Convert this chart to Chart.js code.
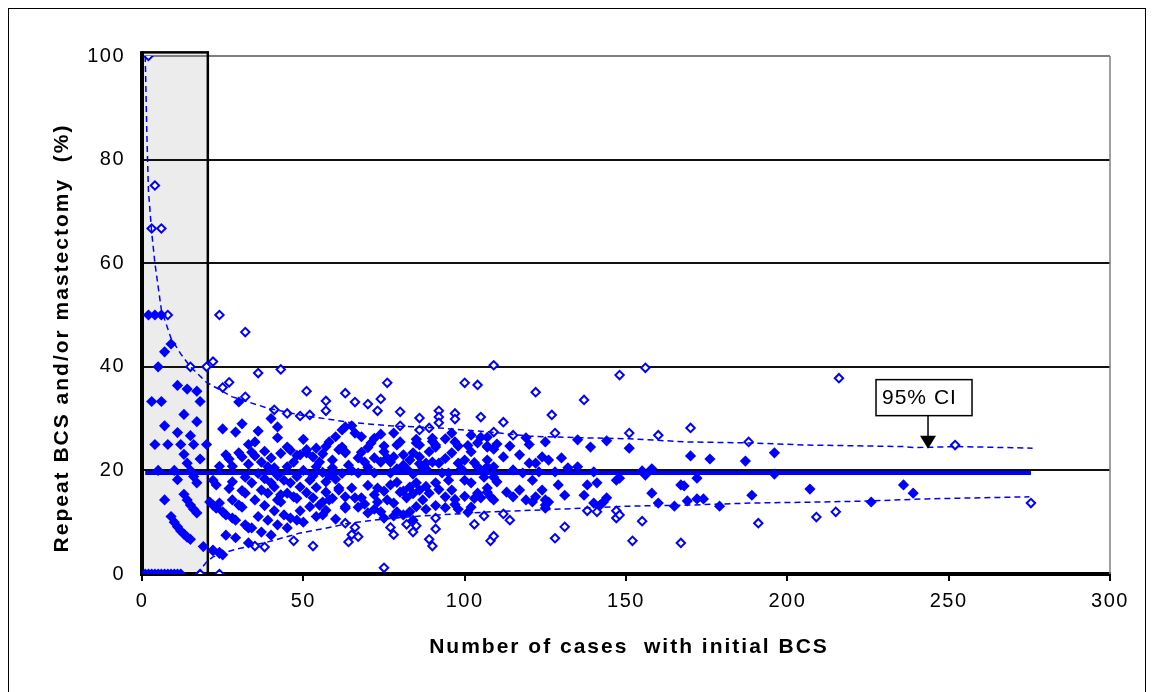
<!DOCTYPE html>
<html>
<head>
<meta charset="utf-8">
<script src="https://cdn.jsdelivr.net/npm/chart.js@4.4.0/dist/chart.umd.min.js"></script>
<style>
  html, body { margin: 0; padding: 0; background: #fff; }
  #wrap { width: 1154px; height: 692px; }
</style>
</head>
<body>
<div id="wrap"><canvas id="funnel" width="1154" height="692"></canvas></div>
<script>
// hospitals within the 95% limits: [cases with initial BCS, % repeat BCS and/or mastectomy]
const insidePoints = [
  [1,0],[2,0],[3,0],[4,0],[5,0],[6,0],[7,0],[8,0],[9,0],[10,0],[11,0],[12,0],
  [2,50],[4,50],[6,50],[9,44.4],[7,42.9],[5,40],[11,36.4],[14,35.7],[17,35.3],
  [18,33.3],[3,33.3],[6,33.3],[13,30.8],[7,28.6],[17,29.4],[11,27.3],[15,26.7],
  [4,25],[8,25],[12,25],[16,25],[20,25],[13,23.1],[14,21.4],[18,22.2],[5,20],[10,20],[15,20],
  [11,18.2],[16,18.8],[17,17.6],[13,15.4],[7,14.3],[14,14.3],[15,13.3],[16,12.5],[17,11.8],
  [9,11.1],[10,10],[11,9.1],[12,8.3],[13,7.7],[14,7.1],[15,6.7],[19,5.3],[22,4.5],[24,4.2],
  [30,33.2],[40,30],[42,28.4],[31,29],[25,28],[29,27.4],[36,27.6],[42,26.3],[50,26],[35,25.5],
  [33,25],[45,24.5],[54,24.3],[58,25.5],[60,26.5],[62,27.8],[63,28.4],
  [51,24],[61,24],[26,23],[30,23.4],[35,22.8],[40,22.4],[47,21.6],[49,23],[51,23.4],[55,21.6],
  [63,23.4],[24,20.8],[28,20.8],[33,21.2],[39,20.7],[41,20.5],[45,20.7],[54,20.7],[59,20.5],
  [22,18.1],[23,17.2],[28,17.8],[32,18.7],[40,17.6],[41,16.8],[44,18.1],[46,17.6],[49,16.8],
  [52,18.1],[57,17.8],[47,14.9],[43,15.3],[39,15.6],[32,15.6],[35,14.3],[28,14.3],[24,13.7],
  [30,13.3],[21,13.9],[22,13.3],[23,12.7],[25,12],[26,11.4],[28,10.8],[29,10.4],[53,14.7],
  [55,13.3],[56,13.9],[58,14.3],[61,16.2],[63,13],[52,13],[44,11.4],[46,10.8],[48,10.4],
  [50,10],[39,10.4],[42,9.5],[45,8.9],[56,11.4],[60,10.6],[32,9.5],[33,8.9],[34,8.9],
  [26,7.5],[29,7],[33,6],[22,4.6],[24,4],[25,3.7],
  [27,22.2],[31,22.6],[34,23.5],[37,21.6],[38,23.7],[43,23.3],[46,23.9],[48,22.9],[53,22.6],
  [56,23.2],[57,24.6],[59,22],[36,19.4],[38,18.4],[42,19],[48,18.8],[50,20],[53,18.9],
  [56,19.6],[58,19],[60,18.3],[62,19.4],[27,16.5],[31,16.1],[34,17.6],[37,16.2],[42,14.3],
  [45,15.6],[48,14.6],[51,15.7],[54,16.7],[57,15.8],[59,14.6],[38,13.2],[41,12.2],[43,13.9],
  [49,12.2],[54,11.1],[57,12.3],[36,11.1],[37,8.1],[40,7.5],[31,12.9],
  [65,28.6],[66,27.2],[78,27.2],[96,27.2],[102,26.8],[105,26.4],[72,26.2],[85,26],[90,26.2],
  [62,24.5],[75,24.7],[80,25.5],[86,24.9],[91,24.5],[98,24.7],[104,25.3],[107,24.5],
  [71,25.3],[79,24.9],[85,25.3],[91,24.9],[63,23.6],[67,22.4],[69,21.6],[72,22.4],[75,23.6],
  [77,21.6],[78,22.6],[81,23],[84,23.4],[86,22.6],[88,21.4],[90,21.6],[92,21.4],[98,21.4],
  [102,23.6],[104,20.7],[107,22],[65,20],[67,19.5],[72,19.5],[77,19.5],[82,20.3],[87,20.5],
  [88,20.3],[93,19.5],[95,19.5],[99,20.3],[106,20],[84,19.3],
  [61,16.6],[65,16.6],[73,16.6],[77,17.2],[80,15.8],[83,16.8],[85,17.6],[86,16.2],[89,15.6],
  [91,17.6],[95,18.1],[96,16.2],[100,18.1],[102,17.6],[104,15.6],[107,16.6],[63,14.9],
  [66,14.7],[68,14.7],[73,13.9],[76,14.3],[78,13.7],[82,14.7],[87,14.3],[105,14.7],[63,12.7],
  [67,12.9],[70,11.8],[74,12],[79,12],[85,13],[88,12.5],[98,12.5],[102,12.9],[75,10.8],
  [81,11.4],[84,10.4],[78,11.2],
  [64,21],[68,23.5],[70,20.6],[74,21.6],[76,22.4],[79,20.3],[81,21],[83,22],[86,21.3],
  [89,23.6],[94,22.3],[96,23.4],[100,22],[103,21.5],[70,17.1],[72,15.3],[75,16],[79,17.7],
  [81,16],[84,15.5],[88,16.9],[92,16.3],[94,14.9],[97,14.4],[100,15],[103,14.6],[69,13.5],
  [72,12.5],[83,12],[91,13.2],[94,12.8],[97,13.4],[101,11.9],[90,25.6],[94,26.1],[97,25.5],
  [101,24.8],[68,26.5],[70,24.4],[74,27],
  [107,26.4],[119,26.3],[120,25],[125,25.5],[135,25.9],[139,24.5],[144,25.7],[114,24.7],
  [107,24.7],[109,24.1],[110,25.1],[112,22.6],[117,23],[120,21.4],[122,21.4],[124,22.6],
  [126,22],[130,22.4],[132,20.5],[135,20.7],[140,19.7],[147,18.1],[107,20.7],[109,20.7],
  [106,18.7],[109,18.7],[110,17.8],[115,20.1],[118,19.5],[121,18.1],[123,19.7],[128,19.7],
  [129,17.2],[138,17.2],[141,17.6],[107,15.8],[108,14.9],[109,14.3],[113,15.8],[115,14.9],
  [117,16.2],[119,14.3],[121,13.9],[124,16.2],[122,14.9],[125,14.3],[125,13.3],[126,13.9],
  [131,15.2],[137,15.2],[140,13.7],[143,13.9],[144,14.7],[142,13.3],[125,12.7],
  [151,24.3],[170,22.8],[176,22.2],[187,21.8],[196,23.4],[155,19.9],[158,20.3],[156,19.1],
  [196,19.3],[148,18.5],[167,17.2],[168,17],[172,18.5],[158,15.6],[160,13.7],[165,13.1],
  [169,14.1],[172,14.5],[174,14.5],[179,13.1],[189,15.2],[207,16.4],[236,17.2],[239,15.6],
  [226,13.9]
];

// hospitals outside the 95% limits
const outsidePoints = [
  [2,100],[4,75],[3,66.7],[6,66.7],[8,50],[15,40],[20,40],[22,41],[24,50],[32,46.7],
  [25,36],[27,37],[36,38.8],[43,39.5],[32,34.2],[51,35.3],[57,33.4],[57,31.5],[63,34.9],
  [41,31.7],[45,31],[49,30.5],[52,30.7],
  [76,36.9],[66,33.2],[70,32.8],[74,33.8],[73,31.5],[80,31.3],[86,30.1],[80,28.6],[86,27.8],
  [89,28.2],[92,31.5],[92,30.3],[92,29.2],[97,31],[97,29.9],[100,36.9],[104,36.5],[105,30.3],
  [109,40.3],[148,38.4],[122,35.1],[137,33.6],[112,29.3],[127,30.7],[109,27.4],[115,26.8],
  [128,27.2],[151,27.2],[156,39.8],[216,37.8],[160,26.8],[170,28.2],[188,25.5],[252,24.9],
  [18,0],[24,0],[35,5.4],[38,5.2],[47,6.4],[53,5.4],[64,6.2],[63,9.8],[66,9],[65,7.6],
  [67,7.2],[77,9],[78,7.6],[82,9.6],[84,8.1],[85,9.3],[91,10.8],[91,8.7],[89,6.7],[90,5.4],
  [103,9.6],[106,11.2],[108,6.4],[109,7.3],[75,1.2],[112,11.6],[114,10.4],[138,12.2],
  [141,12],[147,12.2],[147,10.8],[131,9.1],[128,6.9],[148,11.4],[155,10.2],[152,6.4],
  [167,6],[191,9.8],[209,11],[215,12],[275.5,13.7]
];

// 95% control limits
const upperCiN   = [1, 1.5, 2, 3, 4, 6, 9, 12, 15, 20, 28, 39, 49, 64, 77, 92, 108, 120, 136, 151, 169, 189, 206, 226, 236, 239, 253, 276];
const upperCiPct = [100, 85, 74, 66, 60, 51, 45.5, 42.5, 40, 37, 34.2, 32, 30.7, 29.3, 28.6, 28.2, 27.4, 26.6, 26.3, 26.1, 25.5, 25.3, 24.9, 24.7, 24.6, 24.4, 24.6, 24.3];
const lowerCiN   = [17, 20, 22, 28, 39, 49, 59, 64, 72, 82, 92, 108, 125, 136, 151, 169, 189, 210, 226, 243, 275];
const lowerCiPct = [0, 2.3, 3.3, 4.6, 6.2, 7.9, 9.1, 9.8, 10.4, 11, 11.4, 12, 12.4, 12.7, 13.1, 13.3, 13.7, 13.9, 14.1, 14.5, 14.9];

const overallPct = 19.5;
const overallN = [1, 275.5];

const xTickValues = [0, 50, 100, 150, 200, 250, 300];
const yTickValues = [0, 20, 40, 60, 80, 100];
const xTitle = 'Number of cases  with initial BCS';
const yTitle = 'Repeat BCS and/or mastectomy  (%)';

// shaded low-volume band
const bandMaxN = 20.4;
const bandTopPct = 100.7;

const ciLabel = '95% CI';
const ciArrowTip = { n: 243.6, pct: 24.2 };

const BLUE = '#0000ff';
const FONT = "'Liberation Sans', Arial, sans-serif";

const toXY = pts => pts.map(p => ({ x: p[0], y: p[1] }));
const zipXY = (xs, ys) => xs.map((v, i) => ({ x: v, y: ys[i] }));

const decor = {
  id: 'decor',
  beforeDraw(chart) {
    const { ctx, scales: { x, y } } = chart;
    ctx.save();
    ctx.fillStyle = '#fff';
    ctx.fillRect(0, 0, chart.width, chart.height);
    ctx.strokeStyle = '#000';
    ctx.lineWidth = 1;
    ctx.strokeRect(8.5, 8.5, 1137, 720);
    const bx0 = x.getPixelForValue(0), bx1 = x.getPixelForValue(bandMaxN);
    const by0 = y.getPixelForValue(bandTopPct), by1 = y.getPixelForValue(0);
    ctx.fillStyle = '#ececec';
    ctx.fillRect(bx0, by0, bx1 - bx0, by1 - by0);
    ctx.restore();
    ctx.letterSpacing = '1.5px';
  },
  beforeDatasetsDraw(chart) {
    const { ctx, chartArea: a, scales: { x, y } } = chart;
    ctx.save();
    // plot frame on the right
    ctx.strokeStyle = '#808080';
    ctx.lineWidth = 1.5;
    ctx.beginPath();
    ctx.moveTo(a.right, a.top);
    ctx.lineTo(a.right, a.bottom);
    ctx.stroke();
    // band outline
    const bx0 = x.getPixelForValue(0), bx1 = x.getPixelForValue(bandMaxN);
    const by0 = y.getPixelForValue(bandTopPct), by1 = y.getPixelForValue(0);
    ctx.strokeStyle = '#000';
    ctx.lineWidth = 2.5;
    ctx.strokeRect(bx0, by0, bx1 - bx0, by1 - by0);
    ctx.lineWidth = 4;
    ctx.beginPath();
    ctx.moveTo(bx0, by0 - 1);
    ctx.lineTo(bx0, by1);
    ctx.stroke();
    ctx.restore();
  },
  afterDatasetsDraw(chart) {
    const { ctx, scales: { x, y } } = chart;
    const tx = x.getPixelForValue(ciArrowTip.n);
    const ty = y.getPixelForValue(ciArrowTip.pct);
    const left = tx - 52, top = ty - 69, w = 96, h = 36;
    ctx.save();
    ctx.fillStyle = '#fff';
    ctx.fillRect(left, top, w, h);
    ctx.strokeStyle = '#000';
    ctx.lineWidth = 1.5;
    ctx.strokeRect(left, top, w, h);
    ctx.letterSpacing = '1px';
    ctx.fillStyle = '#000';
    ctx.font = '21px ' + FONT;
    ctx.textAlign = 'left';
    ctx.textBaseline = 'middle';
    ctx.fillText(ciLabel, left + 6, top + h / 2 + 1);
    ctx.beginPath();
    ctx.moveTo(tx, top + h);
    ctx.lineTo(tx, ty - 12);
    ctx.stroke();
    ctx.beginPath();
    ctx.moveTo(tx - 8, ty - 13);
    ctx.lineTo(tx + 8, ty - 13);
    ctx.lineTo(tx, ty);
    ctx.closePath();
    ctx.fill();
    ctx.restore();
  },
  afterDraw(chart) {
    const { ctx, chartArea: a } = chart;
    ctx.save();
    ctx.fillStyle = '#000';
    ctx.font = 'bold 21px ' + FONT;
    ctx.letterSpacing = '2px';
    ctx.textAlign = 'center';
    ctx.textBaseline = 'middle';
    ctx.fillText(xTitle, (a.left + a.right) / 2 + 3, 647);
    ctx.translate(62, 338);
    ctx.rotate(-Math.PI / 2);
    ctx.fillText(yTitle, 0, 0);
    ctx.restore();
  }
};

new Chart(document.getElementById('funnel'), {
  type: 'scatter',
  data: {
    datasets: [
      {
        type: 'line', data: zipXY(upperCiN, upperCiPct), borderColor: BLUE, borderWidth: 1.5,
        borderDash: [6, 4], pointRadius: 0, fill: false, tension: 0
      },
      {
        type: 'line', data: zipXY(lowerCiN, lowerCiPct), borderColor: BLUE, borderWidth: 1.5,
        borderDash: [6, 4], pointRadius: 0, fill: false, tension: 0
      },
      {
        type: 'line', data: overallN.map(n => ({ x: n, y: overallPct })), borderColor: BLUE,
        borderWidth: 4, pointRadius: 0, fill: false
      },
      {
        data: toXY(insidePoints), pointStyle: 'rectRot', pointRadius: 5.6,
        backgroundColor: BLUE, borderWidth: 0
      },
      {
        data: toXY(outsidePoints), pointStyle: 'rectRot', pointRadius: 4.2,
        backgroundColor: '#fff', borderColor: BLUE, borderWidth: 2
      }
    ]
  },
  options: {
    responsive: false,
    animation: false,
    events: [],
    devicePixelRatio: 1,
    layout: { padding: { left: 0, right: 44, top: 56, bottom: 0 } },
    plugins: { legend: { display: false }, tooltip: { enabled: false } },
    scales: {
      x: {
        type: 'linear', min: 0, max: 300,
        afterBuildTicks: s => { s.ticks = xTickValues.map(v => ({ value: v })); },
        afterFit: s => { s.height = 118; },
        border: { color: '#000', width: 4 },
        grid: { drawOnChartArea: false, drawTicks: true, tickLength: 7, color: '#000', lineWidth: 2 },
        ticks: { color: '#000', font: { family: FONT, size: 20 }, padding: 8, maxRotation: 0 }
      },
      y: {
        type: 'linear', min: 0, max: 100,
        afterBuildTicks: s => { s.ticks = yTickValues.map(v => ({ value: v })); },
        afterFit: s => { s.width = 142; },
        border: { color: '#000', width: 3 },
        grid: {
          drawTicks: false,
          color: c => (c.tick && c.tick.value === 100 ? '#808080' : '#111'),
          lineWidth: c => (c.tick && c.tick.value === 100 ? 2 : 2)
        },
        ticks: { color: '#000', font: { family: FONT, size: 20 }, padding: 17 }
      }
    }
  },
  plugins: [decor]
});
</script>
</body>
</html>
